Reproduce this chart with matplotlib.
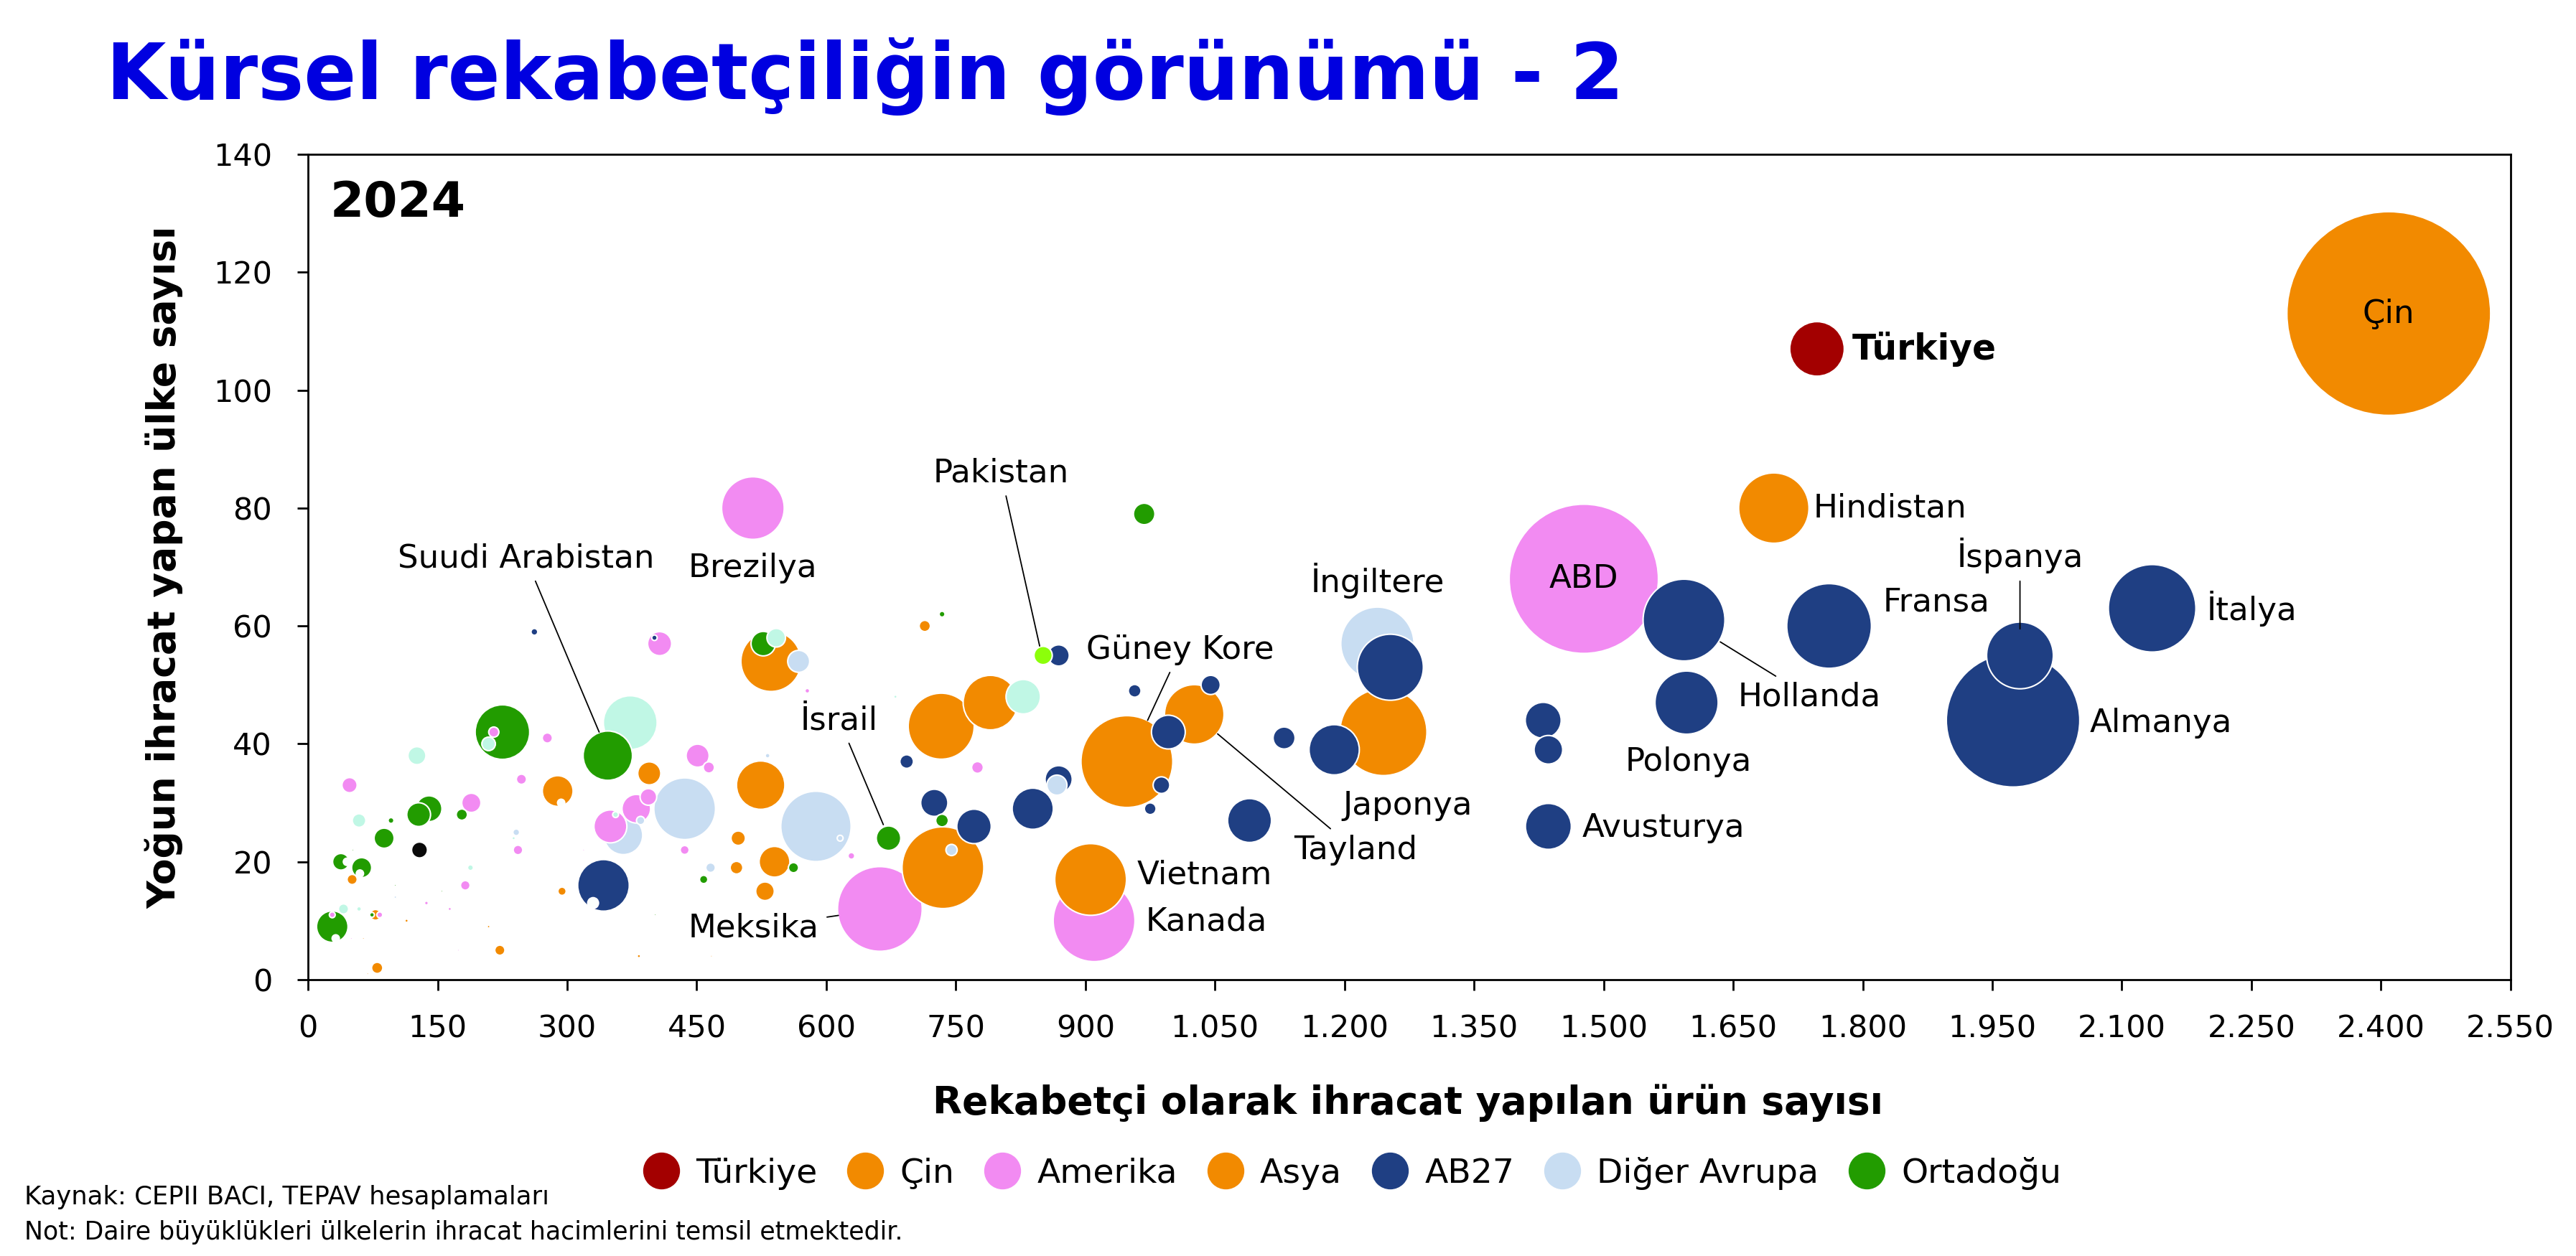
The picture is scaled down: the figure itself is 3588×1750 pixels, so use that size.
import matplotlib.pyplot as plt
from matplotlib.lines import Line2D
from matplotlib.ticker import FuncFormatter, MultipleLocator

plt.rcParams['font.family'] = ['DejaVu Sans']

# x: competitive export product count, y: number of countries, hacim: export volume (circle area)
turkiye_x = [1747]
turkiye_y = [107]
turkiye_hacim = [258]

cin_x = [2409]
cin_y = [113]
cin_hacim = [3600]

asya_x = [1697, 1245, 948, 1026, 906, 735, 733, 790, 714, 536, 524, 540, 529, 498, 496,
          395, 289, 294, 222, 209, 80, 78, 51, 114, 383, 467, 64, 69]
asya_y = [80, 42, 37, 45, 17, 19, 43, 47, 60, 54, 33, 20, 15, 24, 19,
          35, 32, 15, 5, 9, 2, 11, 17, 10, 4, 4, 7, 1]
asya_hacim = [429, 656, 731, 307, 446, 580, 378, 258, 11, 315, 203, 82, 30, 18, 14,
              46, 82, 6, 9, 0.7, 11, 10, 9, 1, 1, 0.4, 0.4, 0.4]

amerika_x = [1477, 662, 910, 515, 775, 407, 451, 464, 350, 380, 394, 277, 215, 247, 189,
             243, 182, 48, 436, 629, 578, 137, 164, 28, 83, 319, 50, 174]
amerika_y = [68, 12, 10, 80, 36, 57, 38, 36, 26, 29, 31, 41, 42, 34, 30,
             22, 16, 33, 22, 21, 49, 13, 12, 11, 11, 22, 7, 5]
amerika_hacim = [1931, 622, 580, 340, 12, 50, 46, 11, 94, 71, 24, 9, 9, 9, 32,
                 8, 8, 20, 7, 4, 2, 1.3, 1, 3, 3, 0.4, 0.4, 0.4]

ab27_x = [1974, 1982, 2135, 1761, 1593, 1596, 1436, 1430, 1436, 1253, 1188, 1090, 1130, 1045,
          996, 988, 975, 957, 869, 869, 839, 771, 725, 693, 342, 262, 401]
ab27_y = [44, 55, 63, 60, 61, 47, 26, 44, 39, 53, 39, 27, 41, 50,
          42, 33, 29, 49, 55, 34, 29, 26, 30, 37, 16, 59, 58]
ab27_hacim = [1544, 386, 664, 622, 580, 346, 183, 112, 71, 378, 219, 167, 42, 32,
              99, 24, 12, 14, 39, 64, 147, 103, 64, 16, 231, 4, 2.6]

avrupa_x = [1238, 588, 436, 365, 568, 867, 745, 466, 385, 241, 616, 532, 101]
avrupa_y = [57, 26, 29, 24.5, 54, 33, 22, 19, 27, 25, 24, 38, 14]
avrupa_hacim = [464, 429, 330, 130, 42, 35, 11, 8, 6, 4, 3, 2, 0.7]

ortadogu_x = [347, 672, 225, 968, 527, 140, 128, 88, 62, 38, 28, 178, 96, 734, 734,
              562, 458, 74, 52, 101, 155, 402]
ortadogu_y = [38, 24, 42, 79, 57, 29, 28, 24, 19, 20, 9, 28, 27, 27, 62,
              19, 17, 11, 22, 16, 15, 11]
ortadogu_hacim = [211, 52, 258, 40, 52, 58, 49, 35, 35, 24, 86, 11, 3, 14, 3,
                  9, 6, 2, 0.4, 0.4, 0.4, 0.4]

diger_x = [373, 828, 542, 126, 209, 59, 41, 59, 188, 238, 356, 680]
diger_y = [43.6, 48, 58, 38, 40, 27, 12, 12, 19, 24, 28, 48]
diger_hacim = [251, 103, 30, 28, 16, 16, 9, 2, 3, 1, 3, 1]

beyaz_x = [293, 330, 60, 45, 32]
beyaz_y = [30, 13, 18, 20, 7]
beyaz_hacim = [4.5, 10, 4.5, 4.5, 4.5]

pakistan_x = [851]
pakistan_y = [55]
pakistan_hacim = [29]

siyah_x = [129]
siyah_y = [22]
siyah_hacim = [22]

renk = {
    'Türkiye': '#a30000',
    'Çin': '#f28a00',
    'Amerika': '#f28bf2',
    'Asya': '#f28a00',
    'AB27': '#1f3f83',
    'Diğer Avrupa': '#c8ddf2',
    'Ortadoğu': '#229c00',
    'Diğer': '#c0f7e5',
    'Beyaz': '#fbfffd',
    'Pakistan': '#8cff0a',
    'Siyah': '#0a0a0a',
}

gruplar = [
    ('Türkiye', turkiye_x, turkiye_y, turkiye_hacim),
    ('Çin', cin_x, cin_y, cin_hacim),
    ('Asya', asya_x, asya_y, asya_hacim),
    ('Amerika', amerika_x, amerika_y, amerika_hacim),
    ('AB27', ab27_x, ab27_y, ab27_hacim),
    ('Diğer Avrupa', avrupa_x, avrupa_y, avrupa_hacim),
    ('Ortadoğu', ortadogu_x, ortadogu_y, ortadogu_hacim),
    ('Diğer', diger_x, diger_y, diger_hacim),
    ('Beyaz', beyaz_x, beyaz_y, beyaz_hacim),
    ('Pakistan', pakistan_x, pakistan_y, pakistan_hacim),
    ('Siyah', siyah_x, siyah_y, siyah_hacim),
]

legend_names = ['Türkiye', 'Çin', 'Amerika', 'Asya', 'AB27', 'Diğer Avrupa', 'Ortadoğu']

# label, anchor x, y, text x, y, ha, bold, leader line
etiketler = [
    ('Çin', 2409, 113, 2409, 113, 'center', False, False),
    ('Türkiye', 1747, 107, 1788, 107, 'left', True, False),
    ('Hindistan', 1697, 80, 1743, 80, 'left', False, False),
    ('ABD', 1477, 68, 1477, 68, 'center', False, False),
    ('İspanya', 1982, 59.5, 1982, 72, 'center', False, True),
    ('Fransa', 1761, 60, 1823, 64, 'left', False, False),
    ('İtalya', 2135, 63, 2198, 63, 'left', False, False),
    ('Hollanda', 1635, 57.3, 1655, 48, 'left', False, True),
    ('Polonya', 1596, 47, 1598, 37, 'center', False, False),
    ('Almanya', 1974, 44, 2063, 43.5, 'left', False, False),
    ('Avusturya', 1436, 26, 1475, 25.8, 'left', False, False),
    ('İngiltere', 1238, 57, 1238, 67.7, 'center', False, False),
    ('Japonya', 1245, 42, 1273, 29.5, 'center', False, False),
    ('Tayland', 1053, 41.7, 1213, 22, 'center', False, True),
    ('Güney Kore', 972, 44, 1010, 56, 'center', False, True),
    ('Vietnam', 906, 17, 960, 17.8, 'left', False, False),
    ('Kanada', 910, 10, 970, 9.9, 'left', False, False),
    ('Pakistan', 847, 56.6, 802, 86, 'center', False, True),
    ('İsrail', 666, 26.3, 615, 44, 'center', False, True),
    ('Meksika', 614, 10.9, 516, 8.8, 'center', False, True),
    ('Suudi Arabistan', 337, 42, 252, 71.5, 'center', False, True),
    ('Brezilya', 515, 80, 515, 69.8, 'center', False, False),
]

fig = plt.figure(figsize=(35.88, 17.5), dpi=100)
ax = fig.add_axes([0.1196, 0.22, 0.855, 0.6571])

noktalar = []
for name, xs, ys, hs in gruplar:
    for x, y, h in zip(xs, ys, hs):
        noktalar.append((h, x, y, renk[name]))
noktalar.sort(key=lambda p: -p[0])

ax.scatter([p[1] for p in noktalar], [p[2] for p in noktalar],
           s=[p[0] * 11.6 for p in noktalar], c=[p[3] for p in noktalar],
           edgecolors='white', linewidths=1.5, zorder=3)

for text, ax_x, ax_y, tx, ty, ha, bold, line in etiketler:
    weight = 'bold' if bold else 'normal'
    size = 35 if bold else 32.5
    if line:
        ax.annotate(text, xy=(ax_x, ax_y), xytext=(tx, ty), ha=ha, va='center',
                    fontsize=size, fontweight=weight, zorder=5,
                    arrowprops=dict(arrowstyle='-', color='black', lw=1.3,
                                    shrinkA=6, shrinkB=0))
    else:
        ax.text(tx, ty, text, ha=ha, va='center', fontsize=size, fontweight=weight, zorder=5)

ax.set_xlim(0, 2550)
ax.set_ylim(0, 140)
ax.xaxis.set_major_locator(MultipleLocator(150))
ax.yaxis.set_major_locator(MultipleLocator(20))
ax.xaxis.set_major_formatter(FuncFormatter(lambda v, p: f'{int(v):,}'.replace(',', '.')))
ax.tick_params(axis='both', labelsize=31, length=11, width=2)
ax.tick_params(axis='x', pad=23)
ax.tick_params(axis='y', pad=25)
for sp in ax.spines.values():
    sp.set_linewidth(2)

ax.text(0.0098, 0.97, '2024', transform=ax.transAxes, ha='left', va='top',
        fontsize=49, fontweight='bold')

fig.text(0.0412, 0.921, 'Kürsel rekabetçiliğin görünümü - 2', ha='left', va='baseline',
         fontsize=77.5, fontweight='bold', color='#0000e0')
fig.text(0.0638, 0.5486, 'Yoğun ihracat yapan ülke sayısı', rotation=90,
         ha='center', va='center', fontsize=38.5, fontweight='bold')
fig.text(0.5466, 0.1217, 'Rekabetçi olarak ihracat yapılan ürün sayısı',
         ha='center', va='center', fontsize=38.5, fontweight='bold')

handles = [Line2D([], [], marker='o', linestyle='none', markersize=38,
                  markerfacecolor=renk[n], markeredgecolor='white', markeredgewidth=1)
           for n in legend_names]
fig.legend(handles, legend_names, loc='center', bbox_to_anchor=(0.5245, 0.066), ncol=7,
           frameon=False, fontsize=34, handletextpad=0.42, columnspacing=0.82,
           handlelength=1.2)

fig.text(0.0095, 0.0469, 'Kaynak: CEPII BACI, TEPAV hesaplamaları', ha='left', va='center',
         fontsize=25.5)
fig.text(0.0095, 0.0189, 'Not: Daire büyüklükleri ülkelerin ihracat hacimlerini temsil etmektedir.',
         ha='left', va='center', fontsize=25)

fig.savefig('out.png', dpi=100)
